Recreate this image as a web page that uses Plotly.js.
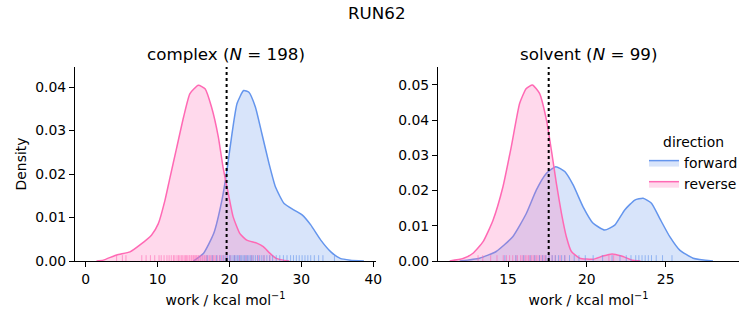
<!DOCTYPE html>
<html>
<head>
<meta charset="utf-8">
<script src="https://cdn.plot.ly/plotly-3.0.1.min.js"></script>
<style>html,body{margin:0;padding:0;background:#fff;}#chart{width:753px;height:325px;}</style>
</head>
<body>
<div id="chart"></div>
<script>
// ---- Data ----
const suptitle = "RUN62";
const panelTitles = ["complex (<i>N</i> = 198)", "solvent (<i>N</i> = 99)"];
const directions = ["forward", "reverse"];
const xLabel = "work / kcal mol<sup>\u22121</sup>";

// KDE curves (work, density) - complex
const cxFwdX = [14.97, 16.4, 17.8, 18.95, 19.65, 20.35, 21.05, 21.97, 22.7, 23.6, 24.5, 25.5, 26.4, 27.6, 29.0, 30.1, 31.3, 32.7, 34.1, 35.4, 36.8, 38.7];
const cxFwdY = [0.0, 0.0018, 0.0063, 0.014, 0.0209, 0.0293, 0.0362, 0.0392, 0.0388, 0.0354, 0.0293, 0.0224, 0.017, 0.0132, 0.0117, 0.0106, 0.0083, 0.0048, 0.0021, 0.0006, 0.0002, 0.0];
const cxRevX = [1.5, 2.45, 4.31, 6.16, 7.55, 9.17, 10.1, 11.03, 11.7, 12.65, 13.6, 14.5, 15.67, 16.6, 17.5, 18.45, 19.1, 19.84, 20.5, 21.45, 22.4, 23.8, 24.7, 25.6, 26.5, 27.5, 28.3];
const cxRevY = [0.0, 0.0002, 0.0014, 0.0021, 0.0037, 0.006, 0.0086, 0.014, 0.019, 0.026, 0.033, 0.0385, 0.0404, 0.0396, 0.0354, 0.0285, 0.0216, 0.0155, 0.0102, 0.0063, 0.0048, 0.0041, 0.0033, 0.0018, 0.0006, 0.0002, 0.0];
// KDE curves - solvent
const svFwdX = [11.93, 13.2, 14.25, 15.3, 16.16, 16.8, 17.44, 18.03, 18.6, 19.13, 19.76, 20.4, 21.13, 21.77, 22.4, 23.04, 23.57, 24.1, 24.62, 25.26, 25.89, 26.74, 28.0];
const svFwdY = [0.0, 0.0008, 0.0027, 0.0069, 0.0135, 0.0202, 0.0249, 0.0268, 0.0254, 0.0216, 0.0154, 0.0107, 0.0088, 0.0102, 0.0145, 0.0173, 0.0178, 0.0164, 0.0121, 0.0069, 0.0031, 0.0008, 0.0];
const svRevX = [11.3, 12.15, 12.78, 13.42, 14.05, 14.68, 15.21, 15.74, 16.16, 16.55, 17.0, 17.44, 17.75, 18.07, 18.39, 18.7, 19.02, 19.55, 20.4, 21.02, 21.6, 22.2, 22.92, 23.4];
const svRevY = [0.0, 0.0007, 0.0022, 0.0055, 0.0116, 0.0211, 0.0325, 0.0448, 0.049, 0.05, 0.0476, 0.040, 0.0315, 0.022, 0.0135, 0.0069, 0.0027, 0.0008, 0.0005, 0.0014, 0.002, 0.0014, 0.0002, 0.0];

// Rug samples (estimated)
const cxRevRug = [4.3, 5.1, 5.6, 7.8, 8.4, 9.0, 9.6, 10.2, 10.5, 10.9, 11.3, 11.6, 11.9, 12.2, 12.4, 12.7, 12.9, 13.1, 13.3, 13.5, 13.7, 13.9, 14.0, 14.2, 14.4, 14.5, 14.7, 14.8, 15.0, 15.1, 15.3, 15.4, 15.6, 15.7, 15.9, 16.0, 16.2, 16.3, 16.5, 16.6, 16.8, 17.0, 17.2, 17.4, 17.6, 17.8, 18.0, 18.3, 18.6, 18.9, 19.2, 19.6, 20.1, 20.7, 21.4, 22.3, 23.1, 24.0, 24.8, 25.6];
const cxFwdRug = [16.9, 17.6, 18.2, 18.7, 19.1, 19.4, 19.7, 20.0, 20.2, 20.5, 20.7, 20.9, 21.1, 21.3, 21.5, 21.7, 21.9, 22.1, 22.3, 22.5, 22.7, 22.9, 23.1, 23.3, 23.6, 23.9, 24.2, 24.5, 24.8, 25.2, 25.6, 26.0, 26.5, 27.0, 27.5, 28.0, 28.5, 28.9, 29.3, 29.7, 30.1, 30.5, 30.9, 31.3, 31.8, 32.4, 33.0, 34.6];
const svRevRug = [13.1, 13.4, 13.9, 14.3, 14.7, 14.9, 15.1, 15.3, 15.5, 15.6, 15.8, 15.9, 16.0, 16.1, 16.2, 16.3, 16.4, 16.5, 16.6, 16.7, 16.8, 16.9, 17.0, 17.1, 17.2, 17.3, 17.4, 17.6, 17.8, 18.0, 18.3, 18.6, 21.4, 21.7];
const svFwdRug = [14.8, 15.5, 16.0, 16.4, 16.7, 17.0, 17.2, 17.4, 17.6, 17.8, 18.0, 18.2, 18.4, 18.6, 18.9, 19.2, 19.5, 19.9, 20.4, 21.0, 21.6, 22.1, 22.5, 22.8, 23.1, 23.3, 23.5, 23.7, 23.9, 24.1, 24.4, 24.8, 25.4];

// vertical reference lines
const refLines = [19.6, 17.58];

// ---- styling ----
const blue = "#6495ED", pink = "#FF69B4";
const blueFill = "rgba(100,149,237,0.25)", pinkFill = "rgba(255,105,180,0.25)";
const yTop = [0.0446, 0.0551];
const xRanges = [[-1.49, 40.38], [10.56, 29.65]];
const font = "DejaVu Sans, Liberation Sans, sans-serif";
const fs = 13.9, tfs = 16.7;

function kde(x, y, color, fill, name, xa, ya, show) {
  return {x: x, y: y, type: "scatter", mode: "lines", fill: "tozeroy",
    fillcolor: fill, line: {color: color, width: 1.5, shape: "spline", smoothing: 0.5},
    name: name, legendgroup: name, showlegend: show, xaxis: xa, yaxis: ya, hoverinfo: "skip"};
}
function rug(vals, color, h, xa, ya) {
  const xs = [], ys = [];
  vals.forEach(v => { xs.push(v, v, null); ys.push(0, h, null); });
  return {x: xs, y: ys, type: "scatter", mode: "lines", line: {color: color, width: 1},
    opacity: 0.6, showlegend: false, xaxis: xa, yaxis: ya, hoverinfo: "skip"};
}

const traces = [
  kde(cxFwdX, cxFwdY, blue, blueFill, directions[0], "x", "y", true),
  kde(cxRevX, cxRevY, pink, pinkFill, directions[1], "x", "y", true),
  kde(svFwdX, svFwdY, blue, blueFill, directions[0], "x2", "y2", false),
  kde(svRevX, svRevY, pink, pinkFill, directions[1], "x2", "y2", false),
  rug(cxRevRug, pink, 0.03 * yTop[0], "x", "y"),
  rug(cxFwdRug, blue, 0.03 * yTop[0], "x", "y"),
  rug(svRevRug, pink, 0.03 * yTop[1], "x2", "y2"),
  rug(svFwdRug, blue, 0.03 * yTop[1], "x2", "y2")
];

const axBase = {showline: true, linecolor: "black", linewidth: 1, ticks: "outside", ticklen: 5,
  tickcolor: "black", showgrid: false, zeroline: false, tickfont: {family: font, size: fs, color: "black"}};

const yDom = [1 - 261/325, 1 - 67/325];
const layout = {
  width: 753, height: 325, margin: {l: 0, r: 0, t: 0, b: 0},
  paper_bgcolor: "white", plot_bgcolor: "white",
  font: {family: font, color: "black"},
  xaxis: Object.assign({}, axBase, {domain: [75/753, 376/753], range: xRanges[0], dtick: 10, tick0: 0,
    anchor: "y", title: {text: xLabel, font: {family: font, size: fs}, standoff: 9}}),
  yaxis: Object.assign({}, axBase, {domain: yDom, range: [0, yTop[0]], dtick: 0.01, tickformat: ".2f",
    anchor: "x", title: {text: "Density", font: {family: font, size: fs}, standoff: 5}}),
  xaxis2: Object.assign({}, axBase, {domain: [438/753, 739/753], range: xRanges[1], tickvals: [15, 20, 25],
    anchor: "y2", title: {text: xLabel, font: {family: font, size: fs}, standoff: 9}}),
  yaxis2: Object.assign({}, axBase, {domain: yDom, range: [0, yTop[1]], dtick: 0.01, tickformat: ".2f",
    anchor: "x2"}),
  shapes: [
    {type: "line", xref: "x", yref: "y domain", x0: refLines[0], x1: refLines[0], y0: 0, y1: 1,
      line: {color: "black", width: 2, dash: "dot"}},
    {type: "line", xref: "x2", yref: "y2 domain", x0: refLines[1], x1: refLines[1], y0: 0, y1: 1,
      line: {color: "black", width: 2, dash: "dot"}}
  ],
  annotations: [
    {text: suptitle, xref: "paper", yref: "paper", x: 377/753, y: 1 - 13/325, showarrow: false,
      font: {family: font, size: tfs}, xanchor: "center", yanchor: "middle"},
    {text: panelTitles[0], xref: "paper", yref: "paper", x: (75 + 376) / 2 / 753, y: 1 - 54/325, showarrow: false,
      font: {family: font, size: tfs}, xanchor: "center", yanchor: "middle"},
    {text: panelTitles[1], xref: "paper", yref: "paper", x: (438 + 739) / 2 / 753, y: 1 - 54/325, showarrow: false,
      font: {family: font, size: tfs}, xanchor: "center", yanchor: "middle"}
  ],
  legend: {x: 644/753, y: 1 - 129/325, xanchor: "left", yanchor: "top", bgcolor: "rgba(0,0,0,0)",
    title: {text: "direction", side: "top center", font: {family: font, size: fs}},
    font: {family: font, size: fs}, itemwidth: 30, tracegroupgap: 0}
};

Plotly.newPlot("chart", traces, layout, {staticPlot: true, displayModeBar: false});
</script>
</body>
</html>
